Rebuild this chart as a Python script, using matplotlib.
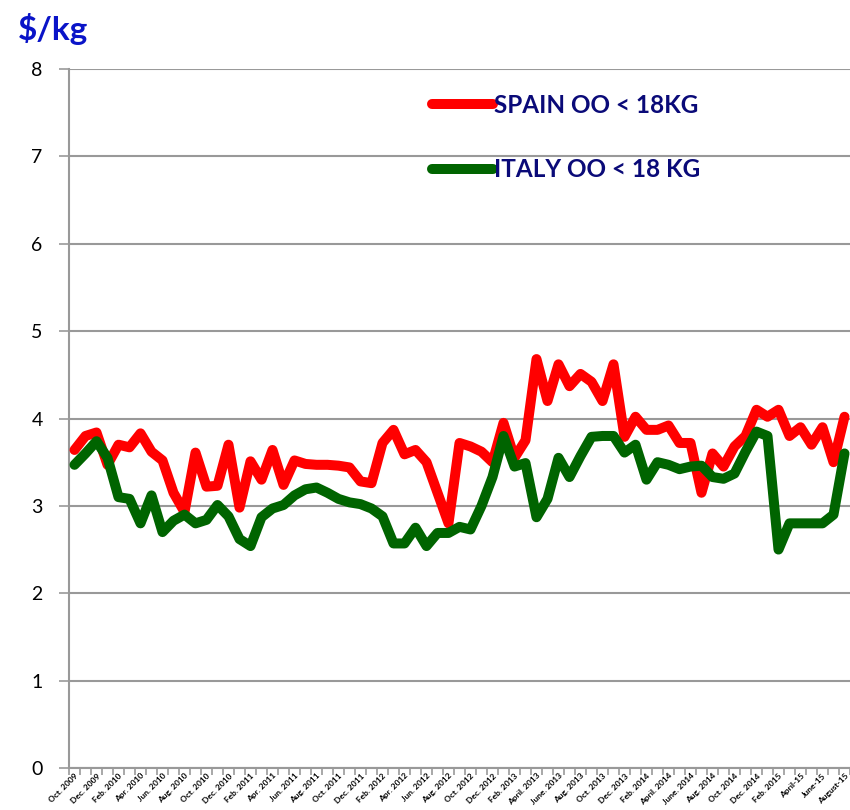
import matplotlib
matplotlib.use('Agg')
import matplotlib.pyplot as plt
import numpy as np

# monthly prices, Oct 2009 .. Aug 2015
spain = [3.64, 3.80, 3.84, 3.47, 3.70, 3.67, 3.83, 3.62, 3.52, 3.15,
         2.93, 3.61, 3.22, 3.23, 3.70, 2.98, 3.51, 3.30, 3.64, 3.24,
         3.52, 3.48, 3.47, 3.47, 3.46, 3.44, 3.28, 3.26, 3.72, 3.87,
         3.59, 3.64, 3.50, 3.15, 2.80, 3.72, 3.68, 3.62, 3.50, 3.95,
         3.55, 3.75, 4.68, 4.20, 4.62, 4.37, 4.51, 4.42, 4.20, 4.62,
         3.79, 4.02, 3.87, 3.87, 3.92, 3.72, 3.72, 3.15, 3.60, 3.45,
         3.68, 3.80, 4.10, 4.02, 4.10, 3.80, 3.90, 3.70, 3.90, 3.50,
         4.02]
italy = [3.47, 3.60, 3.74, 3.55, 3.10, 3.08, 2.80, 3.12, 2.70, 2.83,
         2.90, 2.80, 2.84, 3.01, 2.88, 2.62, 2.54, 2.87, 2.97, 3.01,
         3.12, 3.19, 3.21, 3.15, 3.08, 3.04, 3.02, 2.97, 2.88, 2.57,
         2.57, 2.75, 2.54, 2.69, 2.69, 2.76, 2.73, 3.00, 3.33, 3.80,
         3.45, 3.49, 2.87, 3.08, 3.55, 3.33, 3.57, 3.79, 3.80, 3.80,
         3.61, 3.70, 3.30, 3.50, 3.47, 3.42, 3.45, 3.46, 3.33, 3.31,
         3.37, 3.62, 3.85, 3.80, 2.50, 2.80, 2.80, 2.80, 2.80, 2.90,
         3.60]
tick_labels = ['Oct. 2009', 'Dec. 2009', 'Feb. 2010', 'Apr. 2010', 'Jun. 2010',
               'Aug. 2010', 'Oct. 2010', 'Dec. 2010', 'Feb. 2011', 'Apr. 2011',
               'Jun. 2011', 'Aug. 2011', 'Oct. 2011', 'Dec. 2011', 'Feb. 2012',
               'Apr. 2012', 'Jun. 2012', 'Aug. 2012', 'Oct. 2012', 'Dec. 2012',
               'Feb. 2013', 'April. 2013', 'June. 2013', 'Aug. 2013', 'Oct. 2013',
               'Dec. 2013', 'Feb. 2014', 'April. 2014', 'June. 2014', 'Aug. 2014',
               'Oct. 2014', 'Dec. 2014', 'Feb. 2015', 'April-15', 'June-15',
               'August-15']

plt.rcParams['font.family'] = ['Lato', 'DejaVu Sans']

fig = plt.figure(figsize=(8.5, 8.1), dpi=100)
ax = fig.add_axes([69 / 850, 42 / 810, 781 / 850, 699 / 810])

x = np.arange(len(spain))
ax.plot(x, spain, color='#ff0000', lw=7.2, solid_joinstyle='round',
        solid_capstyle='round', label='SPAIN OO < 18KG', zorder=3)
ax.plot(x, italy, color='#006400', lw=7.2, solid_joinstyle='round',
        solid_capstyle='round', label='ITALY OO < 18 KG', zorder=3)

ax.set_xlim(-0.5, len(spain) - 0.5)
ax.set_ylim(0, 8)
ax.set_yticks(range(0, 9))
ax.grid(axis='y', color='#999999', lw=1.5)
ax.set_axisbelow(True)

ax.set_xticks(x[::2])
ax.set_xticklabels(tick_labels, rotation=45, ha='right', rotation_mode='anchor',
                   fontsize=6, fontweight='bold')
ax.set_xticks(np.arange(-0.5, len(spain), 1), minor=True)
ax.tick_params(axis='x', which='major', length=0, pad=3)
ax.tick_params(axis='x', which='minor', length=5, color='#999999', width=1.2)
ax.tick_params(axis='y', length=7, color='#999999', width=1.2, labelsize=14, pad=12)

for s in ['top', 'right']:
    ax.spines[s].set_visible(False)
for s in ['left', 'bottom']:
    ax.spines[s].set_color('#999999')
    ax.spines[s].set_linewidth(1.5)

leg = ax.legend(loc='upper left', bbox_to_anchor=(432 / 850, 1 - 94 / 810),
                bbox_transform=fig.transFigure, frameon=False, fontsize=17.5,
                handlelength=2.5, handletextpad=0.05, labelspacing=1.7,
                borderpad=0, borderaxespad=0)
for t in leg.get_texts():
    t.set_color('#0a0a78')
    t.set_fontweight('bold')

fig.text(18 / 850, 1 - 40 / 810, '$/kg', color='#0a14c8', fontsize=24,
         fontweight='bold')

plt.savefig('out.png', dpi=100)
